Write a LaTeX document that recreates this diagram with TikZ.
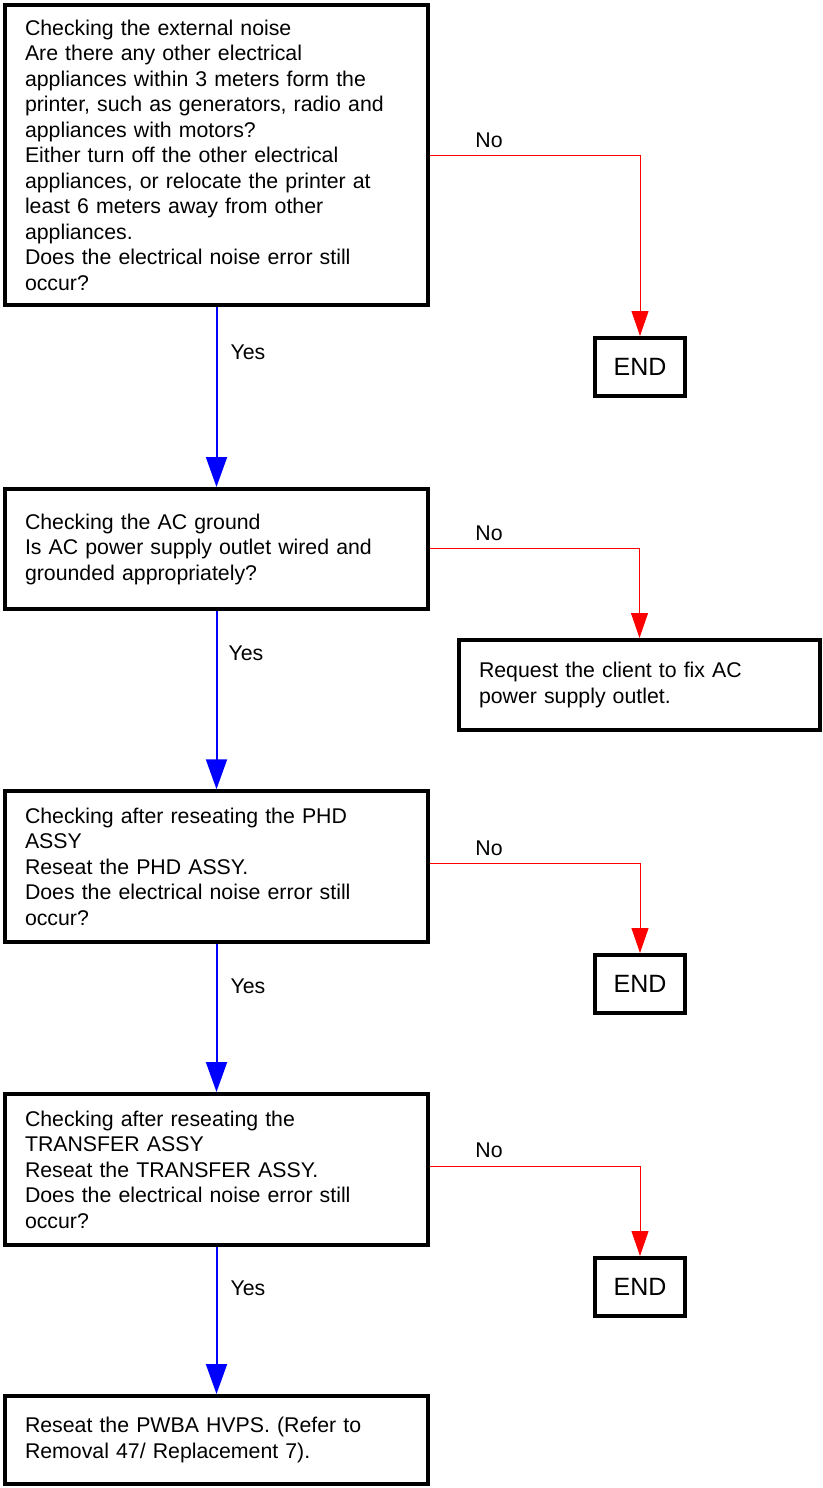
\documentclass[tikz,border=0pt]{standalone}
\usepackage{fontspec}
\setmainfont{Liberation Sans}
\usetikzlibrary{arrows.meta}
\begin{document}
\begin{tikzpicture}[x=1pt,y=-1pt,
  box/.style={draw,line width=4pt,inner xsep=20pt,inner ysep=0pt,align=left,
    font=\fontsize{21.3}{25.5}\selectfont},
  endbox/.style={draw,line width=4pt,minimum width=90pt,minimum height=58pt,inner sep=0pt,
    font=\fontsize{25}{30}\selectfont},
  yesarrow/.style={draw=blue,line width=2pt,-{Triangle[width=21pt,length=30pt]}},
  noarrow/.style={draw=red,line width=1pt,-{Triangle[width=17pt,length=25pt]}},
  lbl/.style={font=\fontsize{21.3}{25.5}\selectfont,inner sep=0pt}]
\useasboundingbox (0,0) rectangle (822,1488);

\node[box,text width=383pt,minimum height=300pt] (b1) at (216.5,155) {Checking the external noise\\
Are there any other electrical\\
appliances within 3 meters form the\\
printer, such as generators, radio and\\
appliances with motors?\\
Either turn off the other electrical\\
appliances, or relocate the printer at\\
least 6 meters away from other\\
appliances.\\
Does the electrical noise error still\\
occur?};

\node[box,text width=383pt,minimum height=120pt] (b2) at (216.5,549) {Checking the AC ground\\
Is AC power supply outlet wired and\\
grounded appropriately?};

\node[box,text width=383pt,minimum height=150.5pt] (b3) at (216.5,866.5) {Checking after reseating the PHD\\
ASSY\\
Reseat the PHD ASSY.\\
Does the electrical noise error still\\
occur?};

\node[box,text width=383pt,minimum height=151pt] (b4) at (216.5,1169.5) {Checking after reseating the\\
TRANSFER ASSY\\
Reseat the TRANSFER ASSY.\\
Does the electrical noise error still\\
occur?};

\node[box,text width=383pt,minimum height=88pt] (b5) at (216.5,1440) {Reseat the PWBA HVPS. (Refer to\\
Removal 47/ Replacement 7).};

\node[box,text width=321pt,minimum height=90pt] (req) at (639.5,685) {Request the client to fix AC\\
power supply outlet.};

\node[endbox] (e1) at (640,367) {END};
\node[endbox] (e3) at (640,984) {END};
\node[endbox] (e4) at (640,1287) {END};

\draw[yesarrow] (b1.south) -- (b2.north);
\draw[yesarrow] (b2.south) -- (b3.north);
\draw[yesarrow] (b3.south) -- (b4.north);
\draw[yesarrow] (b4.south) -- (b5.north);

\draw[noarrow] (b1.east) -| (e1.north);
\draw[noarrow] (b2.east) ++(0,-1) -| (req.north);
\draw[noarrow] (b3.east) ++(0,-3.5) -| (e3.north);
\draw[noarrow] (b4.east) ++(0,-3.5) -| (e4.north);

\node[lbl] (y1) at (248,352) {Yes};
\node[lbl] (y2) at (246,653) {Yes};
\node[lbl] (y3) at (248,986) {Yes};
\node[lbl] (y4) at (248,1288) {Yes};

\node[lbl] (n1) at (489,140) {No};
\node[lbl] (n2) at (489,533) {No};
\node[lbl] (n3) at (489,848) {No};
\node[lbl] (n4) at (489,1150) {No};
\end{tikzpicture}
\end{document}
